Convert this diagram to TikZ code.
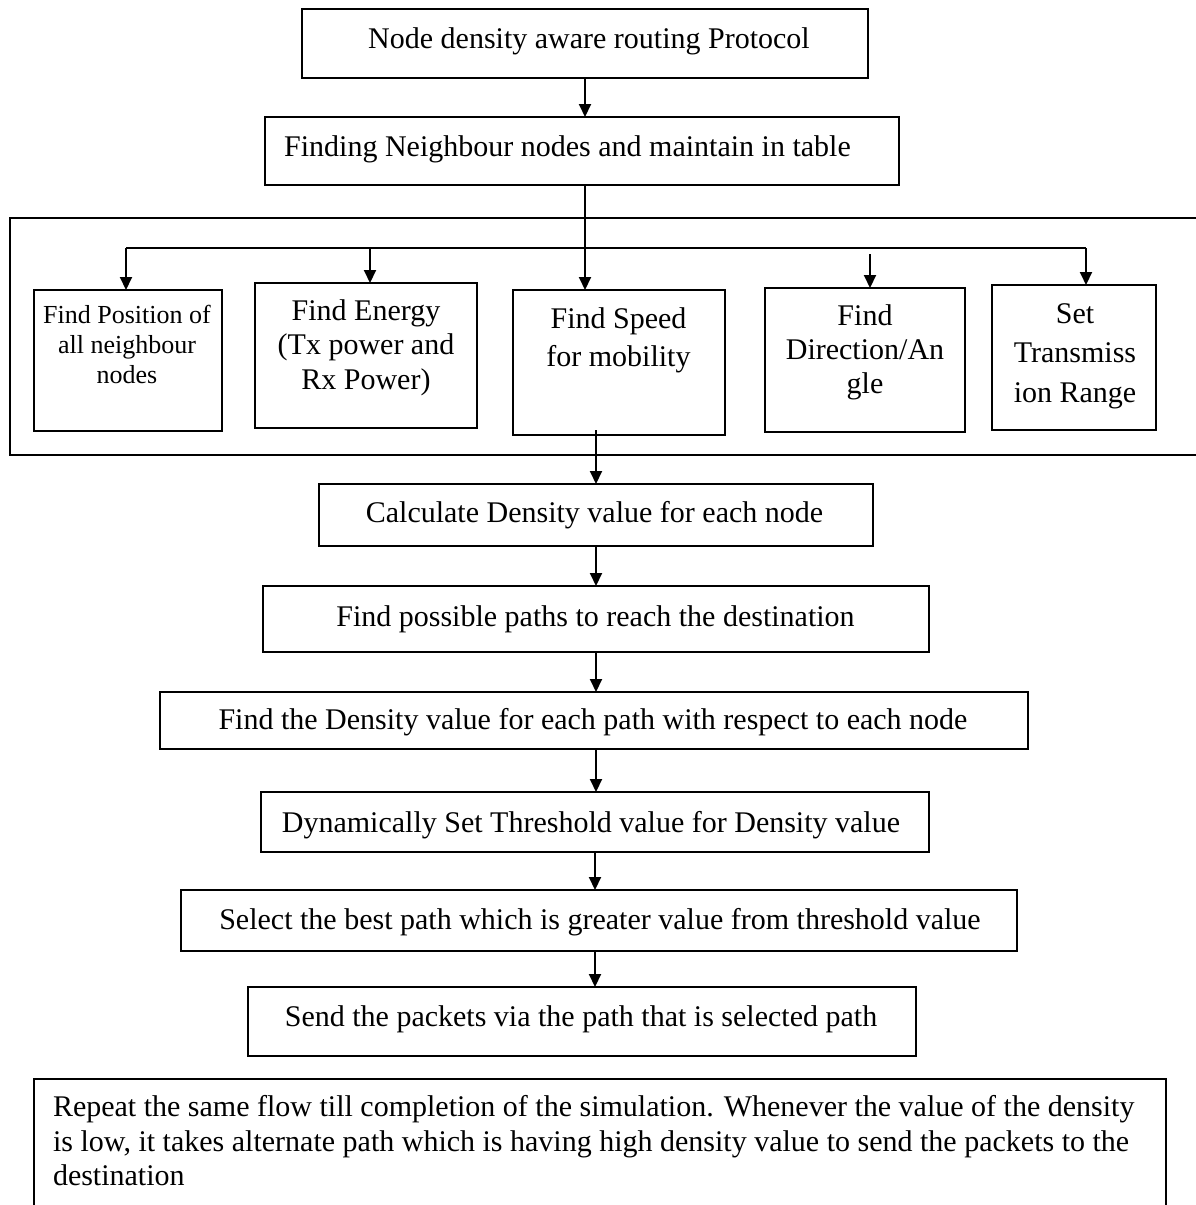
\documentclass[tikz,border=0pt]{standalone}
\usepackage{fontspec}
\setmainfont{Liberation Serif}
\usetikzlibrary{arrows.meta}
\begin{document}
\begin{tikzpicture}[x=1pt,y=-1pt,
  box/.style={draw, line width=2pt, inner sep=0pt, outer sep=0pt},
  txt/.style={inner sep=0pt, outer sep=0pt, font=\fontsize{30}{36}\selectfont},
  arr/.style={line width=2pt, -{Triangle[length=13pt,width=12pt]}},
  plain/.style={line width=2pt}]
\fill[white] (0,0) rectangle (1195,1205);
\useasboundingbox (0,0) rectangle (1195,1205);

% main boxes
\node[box, minimum width=566, minimum height=69] (b0) at (585,43.5) {};
\node[txt, anchor=base] (t0) at (589,48) {Node density aware routing Protocol};

\node[box, minimum width=634, minimum height=68] (b1) at (582,151) {};
\node[txt, anchor=base] (t1) at (567.5,156) {Finding Neighbour nodes and maintain in table};

% container
\draw[plain] (1196,218) -- (10,218) -- (10,455) -- (1196,455);

% sub boxes
\node[box, minimum width=188, minimum height=141] (sp) at (128,360.5) {};
\node[txt, anchor=north, align=center, font=\fontsize{26}{30}\selectfont] (tp) at (127,302)
  {\strut Find Position of\\all neighbour\\nodes};

\node[box, minimum width=222, minimum height=145] (se) at (366,355.5) {};
\node[txt, anchor=north, align=center, font=\fontsize{30}{34.5}\selectfont] (te) at (366,296)
  {\strut Find Energy\\(Tx power and\\Rx Power)};

\node[box, minimum width=212, minimum height=145] (ss) at (619,362.5) {};
\node[txt, anchor=north, align=center, font=\fontsize{30}{38}\selectfont] (ts) at (618.5,301.4)
  {\strut Find Speed\\for mobility};

\node[box, minimum width=200, minimum height=144] (sd) at (865,360) {};
\node[txt, anchor=north, align=center, font=\fontsize{30}{34}\selectfont] (td) at (865,301.2)
  {\strut Find\\Direction/An\\gle};

\node[box, minimum width=164, minimum height=145] (st) at (1074,357.5) {};
\node[txt, anchor=north, align=center, font=\fontsize{30}{39.5}\selectfont] (tt) at (1075,295.4)
  {\strut Set\\Transmiss\\ion Range};

% lower boxes
\node[box, minimum width=554, minimum height=62] (bc) at (596,515) {};
\node[txt, anchor=base] (tc) at (594.5,522) {Calculate Density value for each node};

\node[box, minimum width=666, minimum height=66] (bp) at (596,619) {};
\node[txt, anchor=base] (tpp) at (595.5,626) {Find possible paths to reach the destination};

\node[box, minimum width=868, minimum height=57] (bd) at (594,720.5) {};
\node[txt, anchor=base] (tdd) at (593,729) {Find the Density value for each path with respect to each node};

\node[box, minimum width=668, minimum height=60] (bt) at (595,822) {};
\node[txt, anchor=base] (ttt) at (591,832) {Dynamically Set Threshold value for Density value};

\node[box, minimum width=836, minimum height=61] (bs) at (599,920.5) {};
\node[txt, anchor=base] (tss) at (600,929) {Select the best path which is greater value from threshold value};

\node[box, minimum width=668, minimum height=69] (bn) at (582,1021.5) {};
\node[txt, anchor=base] (tn) at (581,1026) {Send the packets via the path that is selected path};

% final open box
\draw[plain] (34,1210) -- (34,1079) -- (1166,1079) -- (1166,1210);
\node[txt, anchor=north west, align=left, font=\fontsize{30}{34.5}\selectfont] (tf) at (53,1092.8)
  {\strut Repeat the same flow till completion of the simulation. Whenever the value of the density\\
   is low, it takes alternate path which is having high density value to send the packets to the\\
   destination};

% connectors
\draw[arr] (b0.south) -- (b0.south |- b1.north);
\draw[arr] (b0.south |- b1.south) -- (b0.south |- ss.north);

\coordinate (bl) at (126,248);
\coordinate (be) at (370,248);
\coordinate (bdd) at (870,254);
\coordinate (brr) at (1086,248);
\draw[plain] (bl) -- (brr);
\draw[arr] (bl) -- (bl |- sp.north);
\draw[arr] (be) -- (be |- se.north);
\draw[arr] (bdd) -- (bdd |- sd.north);
\draw[arr] (brr) -- (brr |- st.north);

\coordinate (so) at (596,430);
\draw[arr] (so) -- (so |- bc.north);
\draw[arr] (bc.south) -- (bc.south |- bp.north);
\draw[arr] (bp.south) -- (bp.south |- bd.north);
\draw[arr] (bp.south |- bd.south) -- (bp.south |- bt.north);
\draw[arr] (bt.south) -- (bt.south |- bs.north);
\draw[arr] (bt.south |- bs.south) -- (bt.south |- bn.north);
\end{tikzpicture}
\end{document}
